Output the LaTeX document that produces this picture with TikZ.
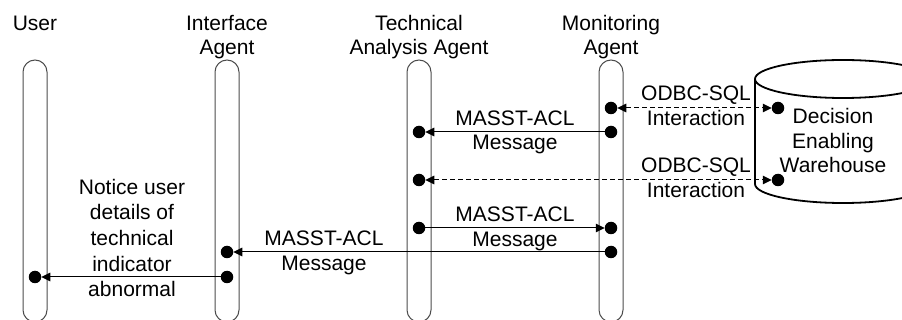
\documentclass[tikz,border=0pt]{standalone}
\usepackage{fontspec}
\setmainfont{Liberation Sans}
\usetikzlibrary{arrows.meta}
\begin{document}
\begin{tikzpicture}[x=1pt,y=-1pt,
  lane/.style={draw=black!70, line width=1pt, rounded corners=12pt},
  txt/.style={font=\fontsize{21}{25}\selectfont, anchor=base, inner sep=0pt, text=black},
  dot/.style={circle, fill=black, inner sep=0pt, minimum size=12.5pt, outer sep=0pt},
  msg/.style={line width=1pt, -{Triangle[length=9pt,width=8.5pt]}},
  dmsg/.style={line width=1pt, dash pattern=on 5pt off 3pt,
     {Triangle[length=9pt,width=8.5pt]}-{Triangle[length=9pt,width=8.5pt]}},
  db/.style={draw=black, line width=1.8pt}
]
\useasboundingbox (0,0) rectangle (902,320);
\clip (0,0) rectangle (902,320);

% headers
\node[txt] (hU)  at (35,31)  {User};
\node[txt] (hI1) at (227,31) {Interface};
\node[txt] (hI2) at (227,55) {Agent};
\node[txt] (hT1) at (419,31) {Technical};
\node[txt] (hT2) at (419,55) {Analysis Agent};
\node[txt] (hM1) at (611,31) {Monitoring};
\node[txt] (hM2) at (611,55) {Agent};

% lifelines
\draw[lane] (23,60) rectangle (47,322);
\draw[lane] (215,60) rectangle (239,322);
\draw[lane] (407,60) rectangle (431,322);
\draw[lane] (599,60) rectangle (623,322);

% warehouse cylinder
\draw[db] (755,79) -- (755,184) arc[start angle=180, end angle=0, x radius=88, y radius=19];
\draw[db] (843,79) ellipse[x radius=88, y radius=19];
\node[txt] (w1t) at (833,123.5) {Decision};
\node[txt] (w2t) at (833,148.5) {Enabling};
\node[txt] (w3t) at (833,173) {Warehouse};

% dots
\node[dot] (u1) at (35,277) {};
\node[dot] (i1) at (227,252) {};
\node[dot] (i2) at (227,277) {};
\node[dot] (t1) at (419,132) {};
\node[dot] (t2) at (419,180) {};
\node[dot] (t3) at (419,228) {};
\node[dot] (m1) at (611,108) {};
\node[dot] (m2) at (611,132) {};
\node[dot] (m3) at (611,228) {};
\node[dot] (m4) at (611,252) {};
\node[dot] (w1) at (778,108) {};
\node[dot] (w2) at (778,180) {};

% messages
\draw[dmsg] (m1) -- (w1);
\draw[msg] (m2) -- (t1);
\draw[dmsg] (t2) -- (w2);
\draw[msg] (t3) -- (m3);
\draw[msg] (m4) -- (i1);
\draw[msg] (i2) -- (u1);

% labels
\node[txt] (l1a) at (696,101) {ODBC-SQL};
\node[txt] (l1b) at (696,126) {Interaction};
\node[txt] (l2a) at (515,125.5) {MASST-ACL};
\node[txt] (l2b) at (515,150) {Message};
\node[txt] (l3a) at (696,173) {ODBC-SQL};
\node[txt] (l3b) at (696,198) {Interaction};
\node[txt] (l4a) at (515,221.5) {MASST-ACL};
\node[txt] (l4b) at (515,246.5) {Message};
\node[txt] (l5a) at (324,246) {MASST-ACL};
\node[txt] (l5b) at (324,271) {Message};
\node[txt] (n1) at (132,195) {Notice user};
\node[txt] (n2) at (132,220) {details of};
\node[txt] (n3) at (132,246) {technical};
\node[txt] (n4) at (132,271.5) {indicator};
\node[txt] (n5) at (132,296.5) {abnormal};
\end{tikzpicture}
\end{document}
